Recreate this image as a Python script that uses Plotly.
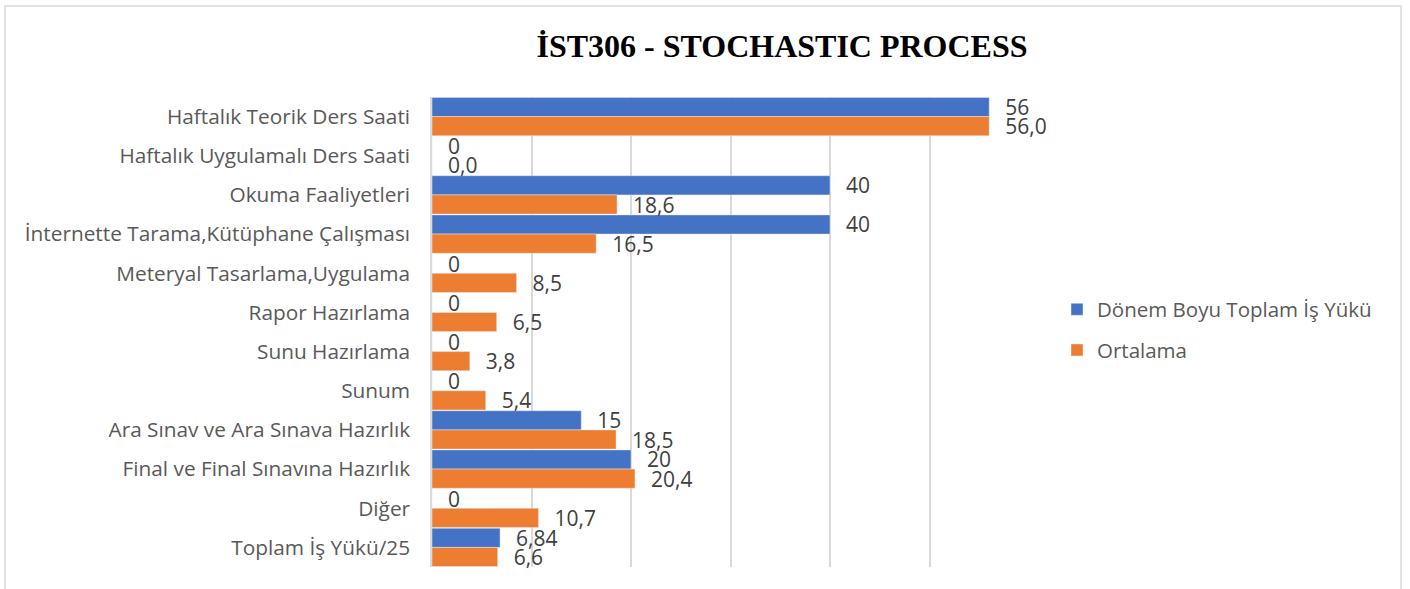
import plotly.graph_objects as go

categories = [
    "Haftalık Teorik Ders Saati",
    "Haftalık Uygulamalı Ders Saati",
    "Okuma Faaliyetleri",
    "İnternette Tarama,Kütüphane Çalışması",
    "Meteryal Tasarlama,Uygulama",
    "Rapor Hazırlama",
    "Sunu Hazırlama",
    "Sunum",
    "Ara Sınav ve Ara Sınava Hazırlık",
    "Final ve Final Sınavına Hazırlık",
    "Diğer",
    "Toplam İş Yükü/25",
]
donem_boyu = [56, 0, 40, 40, 0, 0, 0, 0, 15, 20, 0, 6.84]
ortalama = [56.0, 0.0, 18.6, 16.5, 8.5, 6.5, 3.8, 5.4, 18.5, 20.4, 10.7, 6.6]
series_names = ["Dönem Boyu Toplam İş Yükü", "Ortalama"]
title_text = "İST306 - STOCHASTIC PROCESS"
x_ticks = [0, 10, 20, 30, 40, 50, 60]

W, H = 1410, 589
L, R, T, B = 432, 381, 97, 22
pw, ph = W - L - R, H - T - B

def px_x(x):
    return (x - L) / pw

def px_y(y):
    return (H - B - y) / ph

FONT = "Open Sans"
pad = "\u00a0\u00a0\u200a"
blue_txt = [pad + f"{v:g}".replace(".", ",") for v in donem_boyu]
orange_txt = [pad + f"{v:.1f}".replace(".", ",") for v in ortalama]

fig = go.Figure()
fig.add_trace(go.Bar(
    y=categories, x=donem_boyu, orientation="h", name=series_names[0],
    marker=dict(color="#4472C4"), text=blue_txt, textposition="outside",
    textfont=dict(family=FONT, size=21, color="#404040"),
    constraintext="none", cliponaxis=False, legendgroup="a",
))
fig.add_trace(go.Bar(
    y=categories, x=ortalama, orientation="h", name=series_names[1],
    marker=dict(color="#ED7D31"), text=orange_txt, textposition="outside",
    textfont=dict(family=FONT, size=21, color="#404040"),
    constraintext="none", cliponaxis=False, legendgroup="b",
))

fig.update_layout(
    width=W, height=H,
    margin=dict(l=L, r=R, t=T, b=B, autoexpand=False),
    paper_bgcolor="white", plot_bgcolor="white",
    barmode="group", bargap=0.02, bargroupgap=0,
    title=dict(text="<b>" + title_text + "</b>", x=px_x(782), xref="paper", xanchor="center",
               y=1 - 46 / H, yanchor="middle",
               font=dict(family="Liberation Serif", size=32, color="black")),
    showlegend=True,
    legend=dict(x=px_x(1057), xanchor="left", y=px_y(330), yanchor="middle",
                font=dict(family=FONT, size=20.5, color="#595959"),
                traceorder="grouped", tracegroupgap=11, bgcolor="rgba(0,0,0,0)"),
    xaxis=dict(range=[0, 60], tickvals=x_ticks, showticklabels=False,
               showgrid=True, gridcolor="#D9D9D9", gridwidth=1.5,
               zeroline=False, showline=False, fixedrange=True),
    yaxis=dict(autorange="reversed", showgrid=False, showline=True, linecolor="#D9D9D9",
               linewidth=1.5, ticks="", ticklabelstandoff=16,
               tickfont=dict(family=FONT, size=20.8, color="#595959")),
    shapes=[dict(type="rect", xref="paper", yref="paper",
                 x0=px_x(5), x1=px_x(1401), y0=px_y(600), y1=px_y(6),
                 line=dict(color="#D9D9D9", width=1.5), fillcolor="rgba(0,0,0,0)",
                 layer="below")],
)

fig.write_html("out.html", config={"displayModeBar": False},
               post_script="document.body.style.margin='0';document.body.style.overflow='hidden';")
